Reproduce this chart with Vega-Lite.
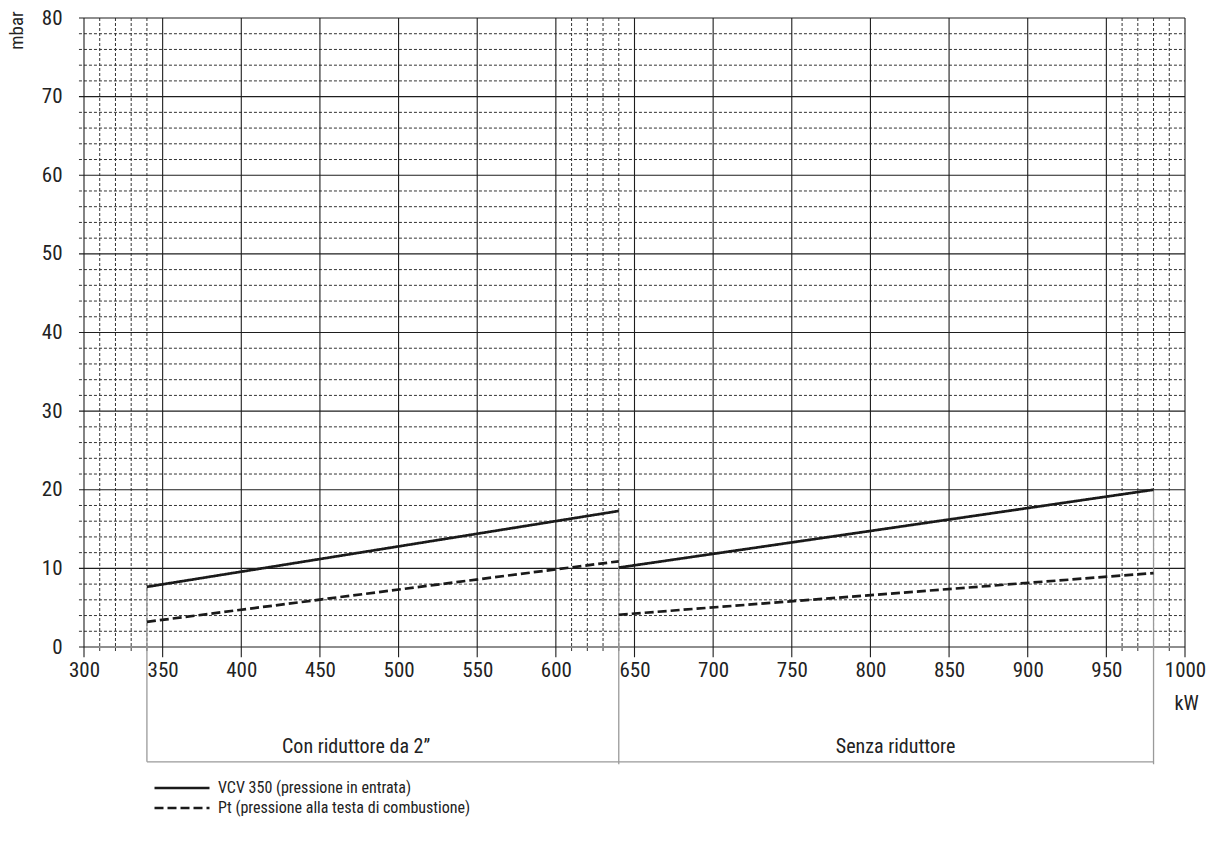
{
  "$schema": "https://vega.github.io/schema/vega-lite/v6.json",
  "width": 1101,
  "height": 629,
  "autosize": {"type": "none"},
  "padding": {"left": 84, "top": 18, "right": 28, "bottom": 201},
  "background": "white",
  "config": {
    "view": {"stroke": null},
    "font": "Roboto Condensed, Liberation Sans Narrow, DejaVu Sans Condensed, sans-serif",
    "text": {"font": "Roboto Condensed, Liberation Sans Narrow, DejaVu Sans Condensed, sans-serif"}
  },
  "datasets": {
    "curves": [
      {"series": "VCV 350 (pressione in entrata)", "seg": "A1", "kW": 340, "mbar": 7.65},
      {"series": "VCV 350 (pressione in entrata)", "seg": "A1", "kW": 640, "mbar": 17.3},
      {"series": "VCV 350 (pressione in entrata)", "seg": "A2", "kW": 640, "mbar": 10.1},
      {"series": "VCV 350 (pressione in entrata)", "seg": "A2", "kW": 980, "mbar": 20.0},
      {"series": "Pt (pressione alla testa di combustione)", "seg": "B1", "kW": 340, "mbar": 3.2},
      {"series": "Pt (pressione alla testa di combustione)", "seg": "B1", "kW": 640, "mbar": 10.9},
      {"series": "Pt (pressione alla testa di combustione)", "seg": "B2", "kW": 640, "mbar": 4.1},
      {"series": "Pt (pressione alla testa di combustione)", "seg": "B2", "kW": 980, "mbar": 9.4}
    ],
    "vminor": [
      {"kW": 310}, {"kW": 320}, {"kW": 330}, {"kW": 340},
      {"kW": 610}, {"kW": 620}, {"kW": 630}, {"kW": 640},
      {"kW": 960}, {"kW": 970}, {"kW": 980}, {"kW": 990}
    ],
    "hminor": [
      {"mbar": 2}, {"mbar": 4}, {"mbar": 6}, {"mbar": 8},
      {"mbar": 12}, {"mbar": 14}, {"mbar": 16}, {"mbar": 18},
      {"mbar": 22}, {"mbar": 24}, {"mbar": 26}, {"mbar": 28},
      {"mbar": 32}, {"mbar": 34}, {"mbar": 36}, {"mbar": 38},
      {"mbar": 42}, {"mbar": 44}, {"mbar": 46}, {"mbar": 48},
      {"mbar": 52}, {"mbar": 54}, {"mbar": 56}, {"mbar": 58},
      {"mbar": 62}, {"mbar": 64}, {"mbar": 66}, {"mbar": 68},
      {"mbar": 72}, {"mbar": 74}, {"mbar": 76}, {"mbar": 78}
    ],
    "vmajor": [
      {"kW": 300}, {"kW": 350}, {"kW": 400}, {"kW": 450}, {"kW": 500},
      {"kW": 550}, {"kW": 600}, {"kW": 650}, {"kW": 700}, {"kW": 750},
      {"kW": 800}, {"kW": 850}, {"kW": 900}, {"kW": 950}, {"kW": 1000}
    ],
    "hmajor": [
      {"mbar": 0}, {"mbar": 10}, {"mbar": 20}, {"mbar": 30}, {"mbar": 40},
      {"mbar": 50}, {"mbar": 60}, {"mbar": 70}, {"mbar": 80}
    ],
    "bracket": [
      {"kW": 340, "kW2": 340, "mbar": 7.65, "mbar2": -14.6},
      {"kW": 640, "kW2": 640, "mbar": 17.3, "mbar2": -14.9},
      {"kW": 980, "kW2": 980, "mbar": 20.0, "mbar2": -14.9},
      {"kW": 340, "kW2": 980, "mbar": -14.6, "mbar2": -14.6}
    ],
    "blabels": [
      {"label": "Con riduttore da 2”", "kW": 473, "mbar": -13.5},
      {"label": "Senza riduttore", "kW": 816, "mbar": -13.5}
    ]
  },
  "layer": [
    {
      "data": {"name": "hminor"},
      "mark": {"type": "rule", "color": "#333333", "strokeWidth": 1, "strokeDash": [3, 2]},
      "encoding": {
        "y": {"field": "mbar", "type": "quantitative", "scale": {"domain": [0, 80], "nice": false, "zero": false}},
        "x": {"datum": 296.8, "type": "quantitative"},
        "x2": {"datum": 1000}
      }
    },
    {
      "data": {"name": "vminor"},
      "mark": {"type": "rule", "color": "#333333", "strokeWidth": 1, "strokeDash": [3, 2]},
      "encoding": {
        "x": {"field": "kW", "type": "quantitative", "scale": {"domain": [300, 1000], "nice": false, "zero": false}},
        "y": {"datum": 80, "type": "quantitative"},
        "y2": {"datum": -0.6}
      }
    },
    {
      "data": {"name": "hmajor"},
      "mark": {"type": "rule", "color": "#1e1e1e", "strokeWidth": 1.1},
      "encoding": {
        "y": {"field": "mbar", "type": "quantitative"},
        "x": {"datum": 296.8, "type": "quantitative"},
        "x2": {"datum": 1000}
      }
    },
    {
      "data": {"name": "vmajor"},
      "mark": {"type": "rule", "color": "#1e1e1e", "strokeWidth": 1.1},
      "encoding": {
        "x": {"field": "kW", "type": "quantitative"},
        "y": {"datum": 80, "type": "quantitative"},
        "y2": {"datum": -1.3}
      }
    },
    {
      "data": {"name": "bracket"},
      "mark": {"type": "rule", "color": "#9a9a9a", "strokeWidth": 1.3},
      "encoding": {
        "x": {"field": "kW", "type": "quantitative"},
        "x2": {"field": "kW2"},
        "y": {"field": "mbar", "type": "quantitative"},
        "y2": {"field": "mbar2"}
      }
    },
    {
      "data": {"name": "blabels"},
      "mark": {"type": "text", "fontSize": 20, "color": "#222222", "align": "center", "baseline": "alphabetic"},
      "encoding": {
        "x": {"field": "kW", "type": "quantitative"},
        "y": {"field": "mbar", "type": "quantitative"},
        "text": {"field": "label"}
      }
    },
    {
      "data": {"name": "curves"},
      "mark": {"type": "line", "color": "#1a1a1a", "strokeWidth": 2.7},
      "encoding": {
        "x": {
          "field": "kW",
          "type": "quantitative",
          "axis": {
            "values": [300, 350, 400, 450, 500, 550, 600, 650, 700, 750, 800, 850, 900, 950, 1000],
            "format": "d",
            "title": "kW",
            "titleX": 1102,
            "titleY": 56,
            "titleAlign": "center",
            "titleBaseline": "middle",
            "titleFontSize": 20,
            "titleFontWeight": "normal",
            "titleColor": "#222222",
            "labelFontSize": 21,
            "labelColor": "#222222",
            "labelPadding": 12,
            "labelFlush": false,
            "labelOverlap": false,
            "ticks": false,
            "domain": false,
            "grid": false
          }
        },
        "y": {
          "field": "mbar",
          "type": "quantitative",
          "axis": {
            "values": [0, 10, 20, 30, 40, 50, 60, 70, 80],
            "title": "mbar",
            "titleX": -68,
            "titleY": 12,
            "titleAngle": 270,
            "titleAlign": "center",
            "titleBaseline": "middle",
            "titleFontSize": 19,
            "titleFontWeight": "normal",
            "titleColor": "#222222",
            "labelFontSize": 21,
            "labelColor": "#222222",
            "labelPadding": 22,
            "labelFlush": false,
            "labelOverlap": false,
            "ticks": false,
            "domain": false,
            "grid": false
          }
        },
        "strokeDash": {
          "field": "series",
          "type": "nominal",
          "scale": {
            "domain": ["VCV 350 (pressione in entrata)", "Pt (pressione alla testa di combustione)"],
            "range": [[1, 0], [9, 4]]
          },
          "legend": {
            "orient": "none",
            "legendX": 90,
            "legendY": 762,
            "title": null,
            "padding": 0,
            "symbolType": "M-5,0H5",
            "symbolSize": 121,
            "symbolStrokeWidth": 2.7,
            "symbolStrokeColor": "#1a1a1a",
            "symbolFillColor": "transparent",
            "labelFontSize": 16,
            "labelColor": "#222222",
            "labelOffset": 28,
            "rowPadding": 4,
            "labelLimit": 600
          }
        },
        "detail": {"field": "seg"}
      }
    }
  ]
}
